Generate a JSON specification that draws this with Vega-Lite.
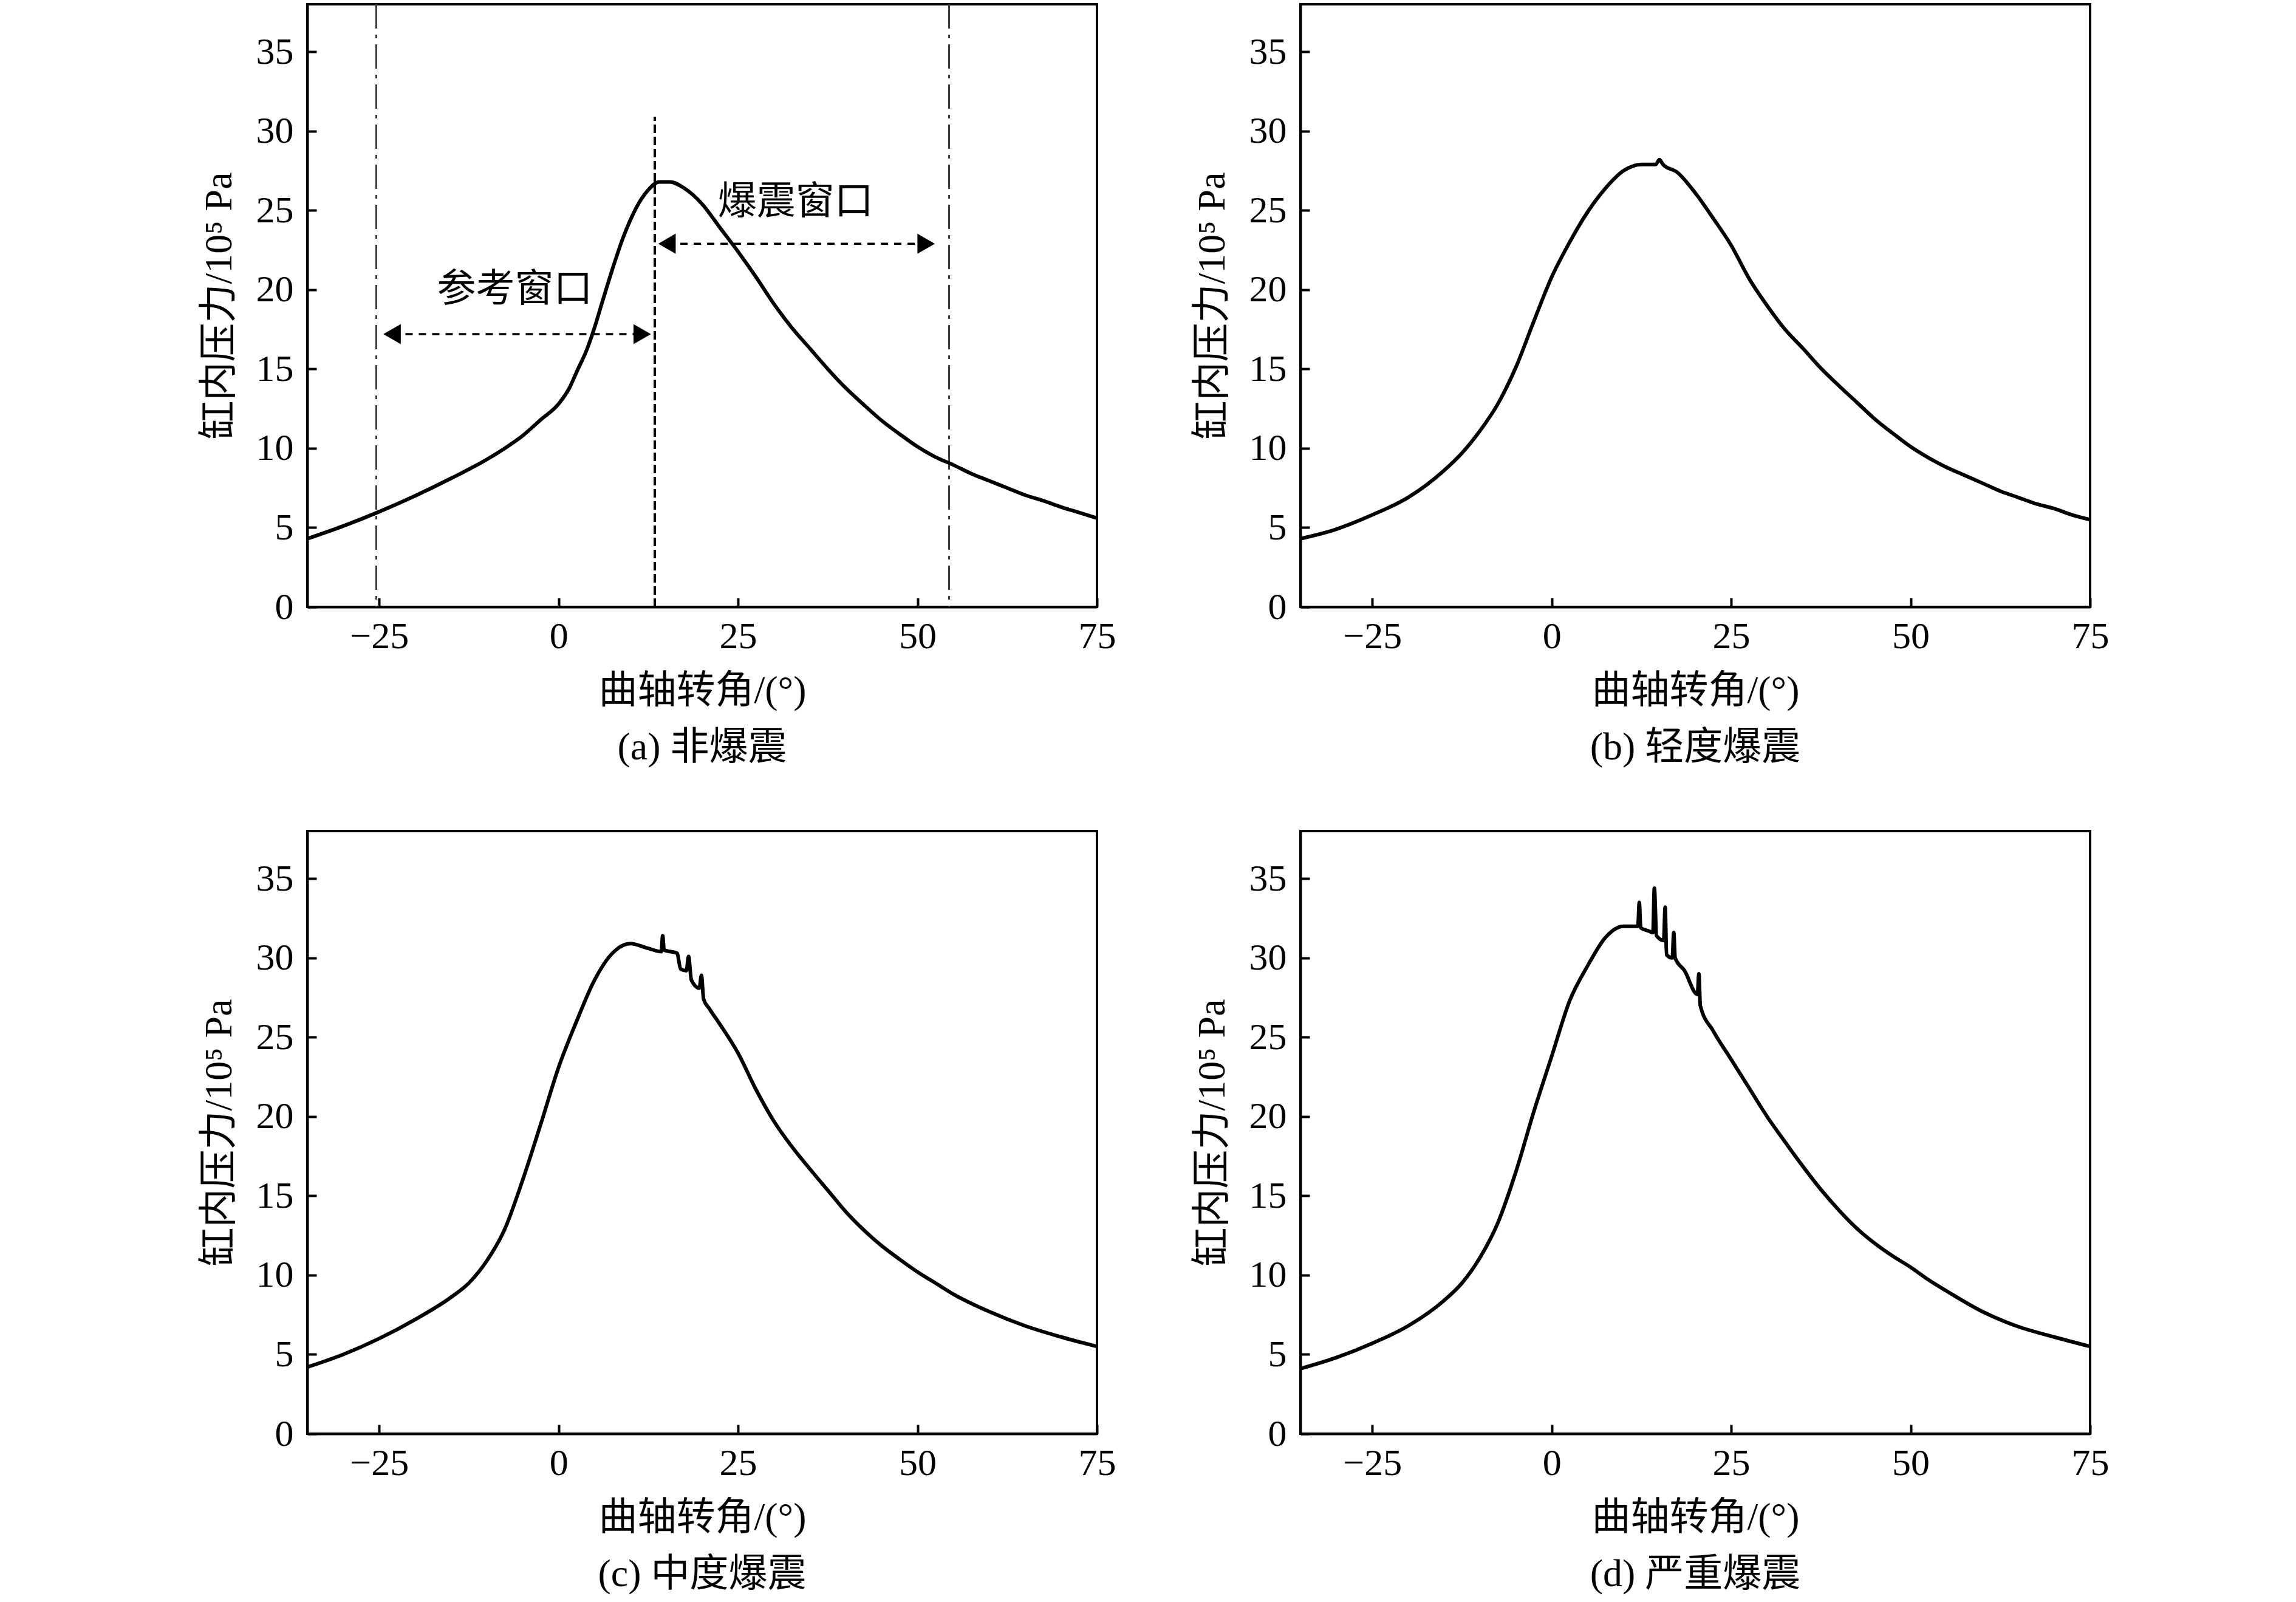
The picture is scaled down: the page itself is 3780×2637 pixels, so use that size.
{
  "$schema": "https://vega.github.io/schema/vega-lite/v6.json",
  "background": "white",
  "padding": {"left": 327, "top": 3, "right": 10, "bottom": 5},
  "config": {
    "view": {"stroke": "black", "strokeWidth": 4},
    "axis": {
      "domainColor": "black", "domainWidth": 4,
      "tickColor": "black", "tickWidth": 4, "tickSize": -15,
      "labelFont": "Liberation Serif", "labelFontSize": 62, "labelColor": "black",
      "titleFont": "Liberation Serif, Noto Sans CJK SC", "titleFontSize": 64, "titleFontWeight": "normal", "titleColor": "black",
      "grid": false, "labelFlush": false
    },
    "axisX": {"labelPadding": 33, "titlePadding": 27},
    "axisY": {"labelPadding": 38, "titlePadding": 28},
    "title": {"font": "Liberation Serif, Noto Sans CJK SC", "fontSize": 64, "fontWeight": "normal", "color": "black", "offset": 30, "anchor": "middle", "frame": "group"}
  },
  "datasets": {
    "a": [
      {"angle": -35, "p": 4.3}, {"angle": -30, "p": 5.1}, {"angle": -25, "p": 6.0}, {"angle": -20, "p": 7.0}, {"angle": -15, "p": 8.1},
      {"angle": -10, "p": 9.3}, {"angle": -7.5, "p": 10.0}, {"angle": -5, "p": 10.8}, {"angle": -2.5, "p": 11.8}, {"angle": 0, "p": 12.8},
      {"angle": 1.5, "p": 13.8}, {"angle": 2.5, "p": 14.8}, {"angle": 4, "p": 16.3}, {"angle": 5, "p": 17.6}, {"angle": 6, "p": 19.1},
      {"angle": 7.5, "p": 21.3}, {"angle": 9, "p": 23.3}, {"angle": 10, "p": 24.4}, {"angle": 11.5, "p": 25.7}, {"angle": 12.5, "p": 26.3},
      {"angle": 14, "p": 26.8}, {"angle": 15.5, "p": 26.8}, {"angle": 17.5, "p": 26.4}, {"angle": 20, "p": 25.4}, {"angle": 22.5, "p": 23.9},
      {"angle": 25, "p": 22.4}, {"angle": 27.5, "p": 20.8}, {"angle": 30, "p": 19.1}, {"angle": 32.5, "p": 17.6}, {"angle": 35, "p": 16.3},
      {"angle": 37.5, "p": 15.0}, {"angle": 40, "p": 13.8}, {"angle": 42.5, "p": 12.75}, {"angle": 45, "p": 11.75}, {"angle": 47.5, "p": 10.9},
      {"angle": 50, "p": 10.1}, {"angle": 52.5, "p": 9.45}, {"angle": 55, "p": 8.95}, {"angle": 57.5, "p": 8.4}, {"angle": 60, "p": 7.95},
      {"angle": 62.5, "p": 7.5}, {"angle": 65, "p": 7.05}, {"angle": 67.5, "p": 6.7}, {"angle": 70, "p": 6.3}, {"angle": 72.5, "p": 5.95},
      {"angle": 75, "p": 5.6}
    ],
    "b": [
      {"angle": -35, "p": 4.3}, {"angle": -30, "p": 4.9}, {"angle": -25, "p": 5.8}, {"angle": -20, "p": 6.9}, {"angle": -15, "p": 8.6},
      {"angle": -12.5, "p": 9.7}, {"angle": -10, "p": 11.1}, {"angle": -7.5, "p": 12.8}, {"angle": -5, "p": 15.1}, {"angle": -2.5, "p": 18.0},
      {"angle": 0, "p": 20.8}, {"angle": 2.5, "p": 23.0}, {"angle": 5, "p": 24.9}, {"angle": 7.5, "p": 26.4}, {"angle": 10, "p": 27.5},
      {"angle": 12.5, "p": 27.9}, {"angle": 14.5, "p": 27.9}, {"angle": 15, "p": 28.2}, {"angle": 15.5, "p": 27.9}, {"angle": 17.5, "p": 27.4},
      {"angle": 20, "p": 26.1}, {"angle": 22.5, "p": 24.5}, {"angle": 25, "p": 22.8}, {"angle": 27.5, "p": 20.7}, {"angle": 30, "p": 19.0},
      {"angle": 32.5, "p": 17.5}, {"angle": 35, "p": 16.3}, {"angle": 37.5, "p": 15.05}, {"angle": 40, "p": 13.95}, {"angle": 42.5, "p": 12.9},
      {"angle": 45, "p": 11.85}, {"angle": 47.5, "p": 10.95}, {"angle": 50, "p": 10.1}, {"angle": 52.5, "p": 9.4}, {"angle": 55, "p": 8.8},
      {"angle": 57.5, "p": 8.3}, {"angle": 60, "p": 7.8}, {"angle": 62.5, "p": 7.3}, {"angle": 65, "p": 6.9}, {"angle": 67.5, "p": 6.5},
      {"angle": 70, "p": 6.2}, {"angle": 72.5, "p": 5.8}, {"angle": 75, "p": 5.5}
    ],
    "c": [
      {"angle": -35, "p": 4.2}, {"angle": -30, "p": 5.0}, {"angle": -25, "p": 6.0}, {"angle": -20, "p": 7.2}, {"angle": -15, "p": 8.6},
      {"angle": -12.5, "p": 9.5}, {"angle": -10, "p": 10.9}, {"angle": -7.5, "p": 12.9}, {"angle": -5, "p": 16.0}, {"angle": -2.5, "p": 19.5},
      {"angle": 0, "p": 23.1}, {"angle": 2.5, "p": 26.0}, {"angle": 5, "p": 28.6}, {"angle": 7.5, "p": 30.3}, {"angle": 10, "p": 30.9},
      {"angle": 12.5, "p": 30.6}, {"angle": 14.3, "p": 30.4}, {"angle": 14.5, "p": 31.4}, {"angle": 14.7, "p": 30.5}, {"angle": 16.5, "p": 30.3},
      {"angle": 17.0, "p": 29.3}, {"angle": 17.8, "p": 29.2}, {"angle": 18.1, "p": 30.1}, {"angle": 18.5, "p": 28.6}, {"angle": 19.6, "p": 28.1},
      {"angle": 19.9, "p": 28.9}, {"angle": 20.2, "p": 27.4}, {"angle": 21, "p": 26.8}, {"angle": 22.5, "p": 25.8}, {"angle": 25, "p": 24.0},
      {"angle": 27.5, "p": 21.7}, {"angle": 30, "p": 19.7}, {"angle": 32.5, "p": 18.1}, {"angle": 35, "p": 16.7}, {"angle": 37.5, "p": 15.35},
      {"angle": 40, "p": 14.0}, {"angle": 42.5, "p": 12.85}, {"angle": 45, "p": 11.85}, {"angle": 47.5, "p": 11.0}, {"angle": 50, "p": 10.2},
      {"angle": 52.5, "p": 9.5}, {"angle": 55, "p": 8.8}, {"angle": 60, "p": 7.7}, {"angle": 65, "p": 6.8}, {"angle": 70, "p": 6.1},
      {"angle": 75, "p": 5.5}
    ],
    "d": [
      {"angle": -35, "p": 4.1}, {"angle": -30, "p": 4.8}, {"angle": -25, "p": 5.7}, {"angle": -20, "p": 6.8}, {"angle": -15, "p": 8.4},
      {"angle": -12.5, "p": 9.5}, {"angle": -10, "p": 11.1}, {"angle": -7.5, "p": 13.3}, {"angle": -5, "p": 16.5}, {"angle": -2.5, "p": 20.3},
      {"angle": 0, "p": 23.8}, {"angle": 2.5, "p": 27.3}, {"angle": 5, "p": 29.5}, {"angle": 7.5, "p": 31.3}, {"angle": 10, "p": 32.0},
      {"angle": 12.0, "p": 32.0}, {"angle": 12.2, "p": 33.5}, {"angle": 12.4, "p": 31.9}, {"angle": 13.5, "p": 31.7}, {"angle": 14.1, "p": 31.6},
      {"angle": 14.3, "p": 34.4}, {"angle": 14.6, "p": 31.4}, {"angle": 15.6, "p": 31.1}, {"angle": 15.8, "p": 33.2}, {"angle": 16.0, "p": 30.2},
      {"angle": 16.8, "p": 30.0}, {"angle": 17.0, "p": 31.6}, {"angle": 17.2, "p": 30.0}, {"angle": 18.5, "p": 29.2}, {"angle": 20.3, "p": 27.7},
      {"angle": 20.5, "p": 29.0}, {"angle": 20.7, "p": 27.0}, {"angle": 22.5, "p": 25.4}, {"angle": 25, "p": 23.6}, {"angle": 27.5, "p": 21.8},
      {"angle": 30, "p": 20.0}, {"angle": 32.5, "p": 18.4}, {"angle": 35, "p": 16.85}, {"angle": 37.5, "p": 15.4}, {"angle": 40, "p": 14.1},
      {"angle": 42.5, "p": 12.95}, {"angle": 45, "p": 12.0}, {"angle": 47.5, "p": 11.2}, {"angle": 50, "p": 10.5}, {"angle": 52.5, "p": 9.7},
      {"angle": 55, "p": 9.0}, {"angle": 60, "p": 7.7}, {"angle": 65, "p": 6.75}, {"angle": 70, "p": 6.1}, {"angle": 75, "p": 5.5}
    ],
    "bounds": [{"angle": -25.4}, {"angle": 54.4}],
    "divider": [{"angle": 13.4, "p": 0, "p_end": 30.9}],
    "arrows": [
      {"window": "参考窗口", "angle": -23.2, "angle_end": 11.65, "p": 17.2},
      {"window": "爆震窗口", "angle": 15.1, "angle_end": 51.2, "p": 22.9}
    ],
    "heads": [
      {"angle": -23.2, "p": 17.2, "dir": "left"}, {"angle": 11.65, "p": 17.2, "dir": "right"},
      {"angle": 15.1, "p": 22.9, "dir": "left"}, {"angle": 51.2, "p": 22.9, "dir": "right"}
    ],
    "labels": [
      {"angle": -6.1, "p": 20.0, "label": "参考窗口"},
      {"angle": 33.0, "p": 25.5, "label": "爆震窗口"}
    ]
  },
  "columns": 2,
  "bounds": "flush",
  "spacing": {"row": 369, "column": 335},
  "concat": [
    {
      "width": 1300, "height": 992,
      "title": {"text": "(a) 非爆震", "orient": "bottom"},
      "layer": [
        {
          "data": {"name": "bounds"},
          "mark": {"type": "rule", "color": "#3a3a3a", "strokeWidth": 3, "strokeDash": [40, 10, 6, 10]},
          "encoding": {
            "x": {"field": "angle", "type": "quantitative", "title": "曲轴转角/(°)", "scale": {"domain": [-35, 75], "nice": false, "zero": false}, "axis": {"values": [-25, 0, 25, 50, 75]}}
          }
        },
        {
          "data": {"name": "a"},
          "mark": {"type": "line", "color": "black", "strokeWidth": 6, "interpolate": "monotone"},
          "encoding": {
            "x": {"field": "angle", "type": "quantitative", "title": "曲轴转角/(°)", "scale": {"domain": [-35, 75], "nice": false, "zero": false}, "axis": {"values": [-25, 0, 25, 50, 75]}},
            "y": {"field": "p", "type": "quantitative", "title": "缸内压力/10⁵ Pa", "scale": {"domain": [0, 38], "nice": false}, "axis": {"values": [0, 5, 10, 15, 20, 25, 30, 35]}}
          }
        },
        {
          "data": {"name": "divider"},
          "mark": {"type": "rule", "color": "black", "strokeWidth": 4, "strokeDash": [14, 6]},
          "encoding": {
            "x": {"field": "angle", "type": "quantitative", "title": "曲轴转角/(°)"},
            "y": {"field": "p", "type": "quantitative", "title": "缸内压力/10⁵ Pa"},
            "y2": {"field": "p_end"}
          }
        },
        {
          "data": {"name": "arrows"},
          "mark": {"type": "rule", "color": "black", "strokeWidth": 3.5, "strokeDash": [12, 10]},
          "encoding": {
            "x": {"field": "angle", "type": "quantitative", "title": "曲轴转角/(°)"},
            "x2": {"field": "angle_end"},
            "y": {"field": "p", "type": "quantitative", "title": "缸内压力/10⁵ Pa"}
          }
        },
        {
          "data": {"name": "heads"},
          "mark": {"type": "point", "filled": true, "color": "black", "opacity": 1, "size": 1100},
          "encoding": {
            "x": {"field": "angle", "type": "quantitative", "title": "曲轴转角/(°)"},
            "y": {"field": "p", "type": "quantitative", "title": "缸内压力/10⁵ Pa"},
            "shape": {"field": "dir", "type": "nominal", "scale": {"domain": ["left", "right"], "range": ["triangle-left", "triangle-right"]}, "legend": null}
          }
        },
        {
          "data": {"name": "labels"},
          "mark": {"type": "text", "font": "Noto Sans CJK SC", "fontSize": 64, "color": "black"},
          "encoding": {
            "x": {"field": "angle", "type": "quantitative", "title": "曲轴转角/(°)"},
            "y": {"field": "p", "type": "quantitative", "title": "缸内压力/10⁵ Pa"},
            "text": {"field": "label"}
          }
        }
      ]
    },
    {
      "width": 1300, "height": 992,
      "title": {"text": "(b) 轻度爆震", "orient": "bottom"},
      "data": {"name": "b"},
      "mark": {"type": "line", "color": "black", "strokeWidth": 6, "interpolate": "monotone"},
      "encoding": {
        "x": {"field": "angle", "type": "quantitative", "title": "曲轴转角/(°)", "scale": {"domain": [-35, 75], "nice": false, "zero": false}, "axis": {"values": [-25, 0, 25, 50, 75]}},
        "y": {"field": "p", "type": "quantitative", "title": "缸内压力/10⁵ Pa", "scale": {"domain": [0, 38], "nice": false}, "axis": {"values": [0, 5, 10, 15, 20, 25, 30, 35]}}
      }
    },
    {
      "width": 1300, "height": 992,
      "title": {"text": "(c) 中度爆震", "orient": "bottom"},
      "data": {"name": "c"},
      "mark": {"type": "line", "color": "black", "strokeWidth": 6, "interpolate": "monotone"},
      "encoding": {
        "x": {"field": "angle", "type": "quantitative", "title": "曲轴转角/(°)", "scale": {"domain": [-35, 75], "nice": false, "zero": false}, "axis": {"values": [-25, 0, 25, 50, 75]}},
        "y": {"field": "p", "type": "quantitative", "title": "缸内压力/10⁵ Pa", "scale": {"domain": [0, 38], "nice": false}, "axis": {"values": [0, 5, 10, 15, 20, 25, 30, 35]}}
      }
    },
    {
      "width": 1300, "height": 992,
      "title": {"text": "(d) 严重爆震", "orient": "bottom"},
      "data": {"name": "d"},
      "mark": {"type": "line", "color": "black", "strokeWidth": 6, "interpolate": "monotone"},
      "encoding": {
        "x": {"field": "angle", "type": "quantitative", "title": "曲轴转角/(°)", "scale": {"domain": [-35, 75], "nice": false, "zero": false}, "axis": {"values": [-25, 0, 25, 50, 75]}},
        "y": {"field": "p", "type": "quantitative", "title": "缸内压力/10⁵ Pa", "scale": {"domain": [0, 38], "nice": false}, "axis": {"values": [0, 5, 10, 15, 20, 25, 30, 35]}}
      }
    }
  ]
}
